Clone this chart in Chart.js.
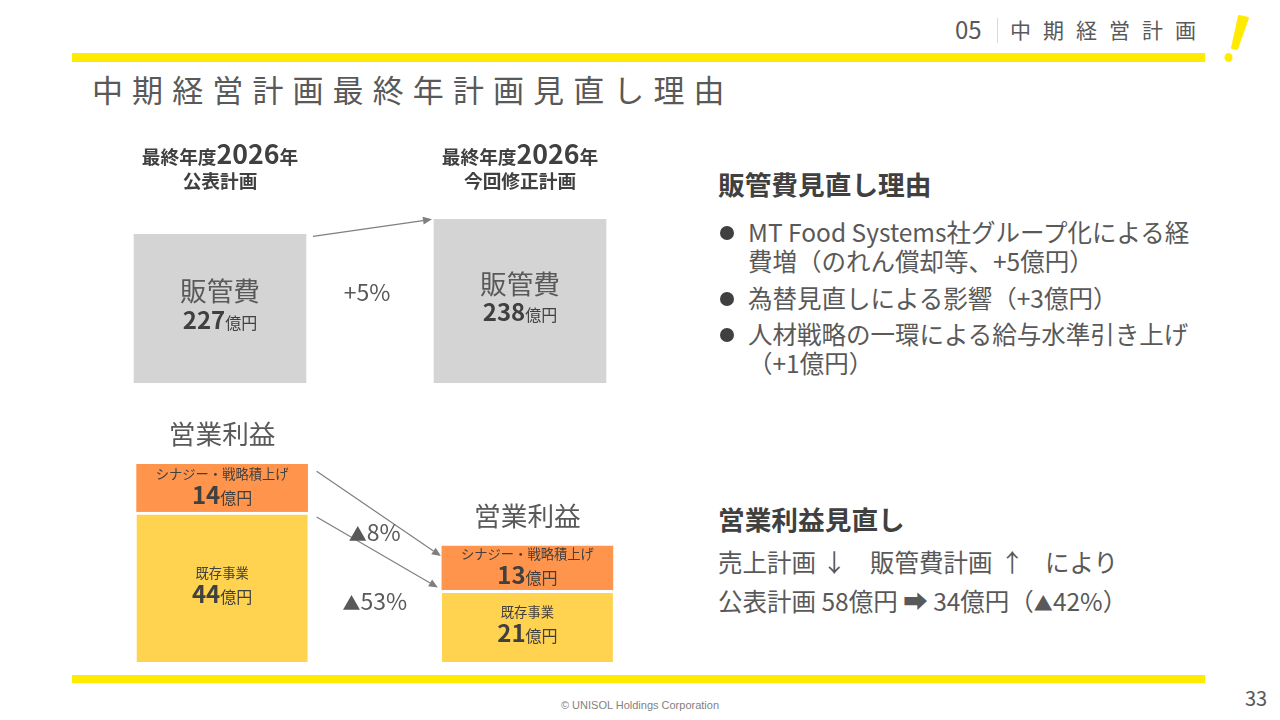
<!DOCTYPE html>
<html lang="ja">
<head>
<meta charset="utf-8">
<title>中期経営計画最終年計画見直し理由</title>
<script src="https://cdn.jsdelivr.net/npm/chart.js@4"></script>
<style>
  html, body { margin: 0; padding: 0; }
  body {
    width: 1280px; height: 720px; position: relative; overflow: hidden; background: #fff;
    font-family: "Noto Sans CJK JP", "Noto Sans", sans-serif; color: #595959;
  }
  .abs { position: absolute; white-space: nowrap; line-height: 1; }
  .bar { position: absolute; background: #ffeb00; }
  .bold { font-weight: bold; color: #404040; }
  .body { font-size: 24.5px; }
  .tri { font-size: 19px; }
  .dot { position: absolute; width: 14px; height: 14px; border-radius: 50%; background: #404040; }
  canvas { position: absolute; }
</style>
</head>
<body>

<!-- header -->
<div class="abs" style="left:955px; top:17px; font-size:24px;">05</div>
<div style="position:absolute; left:997px; top:18px; width:1px; height:25px; background:#d9d9d9;"></div>
<div class="abs" style="left:1010px; top:19px; font-size:21px; letter-spacing:12px;">中期経営計画</div>
<svg style="position:absolute; left:0; top:0;" width="1280" height="80">
  <path d="M1239 16 L1248 18 L1237 49 L1232 48 Z" fill="#ffeb00" stroke="#ffeb00" stroke-width="2" stroke-linejoin="round"/>
  <ellipse cx="1228.5" cy="57.5" rx="4" ry="4.6" fill="#ffeb00"/>
</svg>
<div class="bar" style="left:72px; top:53px; width:1133px; height:9px;"></div>
<div class="abs" style="left:92px; top:73px; font-size:31px; letter-spacing:9.1px;">中期経営計画最終年計画見直し理由</div>

<!-- charts -->
<canvas id="sgaChart" width="621" height="253" style="left:57px; top:130px;"></canvas>
<canvas id="profitChart" width="623" height="262" style="left:57px; top:400px;"></canvas>

<!-- right side text -->
<div class="abs bold" style="left:718px; top:171px; font-size:26.7px;">販管費見直し理由</div>
<div class="dot" style="left:720px; top:226px;"></div>
<div class="abs body" style="left:748px; top:220px;">MT Food Systems社グループ化による経</div>
<div class="abs body" style="left:748px; top:249px;">費増（のれん償却等、+5億円）</div>
<div class="dot" style="left:720px; top:292px;"></div>
<div class="abs body" style="left:748px; top:286px;">為替見直しによる影響（+3億円）</div>
<div class="dot" style="left:720px; top:328px;"></div>
<div class="abs body" style="left:748px; top:322px;">人材戦略の一環による給与水準引き上げ</div>
<div class="abs body" style="left:748px; top:351px;">（+1億円）</div>

<div class="abs bold" style="left:718px; top:506px; font-size:26.7px;">営業利益見直し</div>
<div class="abs body" style="left:718px; top:550px;">売上計画</div>
<div class="abs body" style="left:822px; top:550px;">↓</div>
<div class="abs body" style="left:870px; top:550px;">販管費計画</div>
<div class="abs body" style="left:1000px; top:550px;">↑</div>
<div class="abs body" style="left:1045px; top:550px;">により</div>
<div class="abs body" style="left:718px; top:589px;">公表計画 58億円 ➡ 34億円（<span class="tri">▲</span>42%）</div>

<!-- footer -->
<div class="bar" style="left:72px; top:675px; width:1133px; height:8px;"></div>
<div class="abs" style="left:440px; width:400px; text-align:center; top:700px; font-size:11px; color:#7f7f7f; font-family:'Liberation Sans', sans-serif;">© UNISOL Holdings Corporation</div>
<div class="abs" style="left:1245px; top:688px; font-size:20px;">33</div>

<script>
// 販管費（最終年度2026年）
const fiscalYear = '2026';
const sgaPlans = ['公表計画', '今回修正計画'];
const sgaName = '販管費';
const sgaValues = [227, 238];
const sgaChange = '+5%';

// 営業利益
const profitName = '営業利益';
const seriesNames = ['既存事業', 'シナジー・戦略積上げ'];
const profitExisting = [44, 21];
const profitSynergy = [14, 13];
const profitChange = ['8%', '53%']; // 減少率（▲）: synergy, existing

const FONT = '"Noto Sans CJK JP", "Noto Sans", sans-serif';
const TEXT = '#595959';
const DARK = '#404040';
const LINE = '#7f7f7f';

function drawText(ctx, text, x, y, font, color) {
  ctx.font = font;
  ctx.fillStyle = color;
  ctx.textAlign = 'center';
  ctx.textBaseline = 'middle';
  ctx.fillText(text, x, y);
}

// mixed font sizes on one baseline, centred on cx
function drawParts(ctx, parts, cx, baseline, color) {
  let total = 0;
  parts.forEach(p => { ctx.font = p.font; p.w = ctx.measureText(p.text).width; total += p.w; });
  let x = cx - total / 2;
  ctx.textAlign = 'left';
  ctx.textBaseline = 'alphabetic';
  parts.forEach(p => {
    ctx.font = p.font;
    ctx.fillStyle = color || DARK;
    ctx.fillText(p.text, x, baseline);
    x += p.w;
  });
}

function amount(v) {
  return [{ text: String(v), font: 'bold 24px ' + FONT }, { text: '億円', font: '16px ' + FONT }];
}

function decrease(t) {
  return [{ text: '▲', font: '18px ' + FONT }, { text: t, font: '23px ' + FONT }];
}

function drawArrow(ctx, x1, y1, x2, y2) {
  const a = Math.atan2(y2 - y1, x2 - x1);
  const head = 9, half = 4;
  const bx = x2 - head * Math.cos(a), by = y2 - head * Math.sin(a);
  ctx.save();
  ctx.strokeStyle = LINE;
  ctx.fillStyle = LINE;
  ctx.lineWidth = 1.2;
  ctx.beginPath();
  ctx.moveTo(x1, y1);
  ctx.lineTo(bx, by);
  ctx.stroke();
  ctx.beginPath();
  ctx.moveTo(x2, y2);
  ctx.lineTo(bx + half * Math.sin(a), by - half * Math.cos(a));
  ctx.lineTo(bx - half * Math.sin(a), by + half * Math.cos(a));
  ctx.closePath();
  ctx.fill();
  ctx.restore();
}

function drawBaseline(chart, x0, x1) {
  const ctx = chart.ctx;
  const y = Math.round(chart.chartArea.bottom) + 0.5;
  ctx.save();
  ctx.strokeStyle = LINE;
  ctx.lineWidth = 1;
  ctx.beginPath();
  ctx.moveTo(x0, y);
  ctx.lineTo(x1, y);
  ctx.stroke();
  ctx.restore();
}

const sgaLabels = {
  id: 'sgaLabels',
  afterDatasetsDraw(chart) {
    const ctx = chart.ctx;
    const bottom = chart.chartArea.bottom;
    const bars = chart.getDatasetMeta(0).data;
    drawBaseline(chart, 0, 620);
    bars.forEach((bar, i) => {
      const mid = (bar.y + bottom) / 2;
      drawText(ctx, sgaName, bar.x, mid - 17.5, '26.7px ' + FONT, TEXT);
      drawParts(ctx, amount(sgaValues[i]), bar.x, mid + 20);
      drawParts(ctx, [
        { text: '最終年度', font: 'bold 18.7px ' + FONT },
        { text: fiscalYear, font: 'bold 26.7px ' + FONT },
        { text: '年', font: 'bold 18.7px ' + FONT }
      ], bar.x, 34);
      drawText(ctx, sgaPlans[i], bar.x, 51, 'bold 18.7px ' + FONT, DARK);
    });
    const a = bars[0], b = bars[1];
    drawArrow(ctx, a.x + a.width / 2 + 7, a.y + 2, b.x - b.width / 2 - 2, b.y);
    const midA = (a.y + bottom) / 2;
    drawText(ctx, sgaChange, (a.x + b.x) / 2 - 3, midA - 16, '23px ' + FONT, TEXT);
  }
};

const profitLabels = {
  id: 'profitLabels',
  afterDatasetsDraw(chart) {
    const ctx = chart.ctx;
    const base = chart.getDatasetMeta(0).data;
    const syn = chart.getDatasetMeta(1).data;
    drawBaseline(chart, 2, 621);
    const mids = { base: [], syn: [] };
    [base, syn].forEach((bars, s) => {
      const values = s === 0 ? profitExisting : profitSynergy;
      bars.forEach((bar, i) => {
        const mid = (bar.y + bar.base) / 2;
        (s === 0 ? mids.base : mids.syn).push(mid);
        drawText(ctx, seriesNames[s], bar.x, mid - 14.5, '13.3px ' + FONT, DARK);
        drawParts(ctx, amount(values[i]), bar.x, mid + 16);
      });
    });
    syn.forEach(bar => drawText(ctx, profitName, bar.x, bar.y - 30, '26.7px ' + FONT, TEXT));
    const r = base[0].x + base[0].width / 2;
    const l = base[1].x - base[1].width / 2;
    drawArrow(ctx, r + 9, syn[0].y + 7, l - 1, syn[1].y + 10);
    drawArrow(ctx, r + 9, base[0].y + 5, l - 4, base[1].y - 3);
    const cx = (base[0].x + base[1].x) / 2;
    drawParts(ctx, decrease(profitChange[0]), cx, (mids.syn[0] + mids.syn[1]) / 2 + 13, TEXT);
    drawParts(ctx, decrease(profitChange[1]), cx, (mids.base[0] + mids.base[1]) / 2 + 3, TEXT);
  }
};

new Chart(document.getElementById('sgaChart'), {
  type: 'bar',
  data: {
    labels: sgaPlans,
    datasets: [{ label: sgaName, data: sgaValues, backgroundColor: '#d4d4d4', barThickness: 172 }]
  },
  options: {
    responsive: false,
    animation: false,
    layout: { padding: { left: 13, right: 8, top: 0, bottom: 0 } },
    plugins: { legend: { display: false }, tooltip: { enabled: false } },
    scales: {
      x: { display: false },
      y: { display: false, min: 118, max: 303.5 }
    }
  },
  plugins: [sgaLabels]
});

new Chart(document.getElementById('profitChart'), {
  type: 'bar',
  data: {
    labels: sgaPlans,
    datasets: [
      { label: seriesNames[0], data: profitExisting, backgroundColor: '#ffd350',
        borderColor: '#ffffff', borderWidth: { top: 3 }, barThickness: 171 },
      { label: seriesNames[1], data: profitSynergy, backgroundColor: '#ff954d', barThickness: 171 }
    ]
  },
  options: {
    responsive: false,
    animation: false,
    layout: { padding: { left: 12.5, right: 0, top: 20, bottom: 0 } },
    plugins: { legend: { display: false }, tooltip: { enabled: false } },
    scales: {
      x: { display: false, stacked: true },
      y: { display: false, stacked: true, min: 0, max: 71 }
    }
  },
  plugins: [profitLabels]
});
</script>
</body>
</html>
